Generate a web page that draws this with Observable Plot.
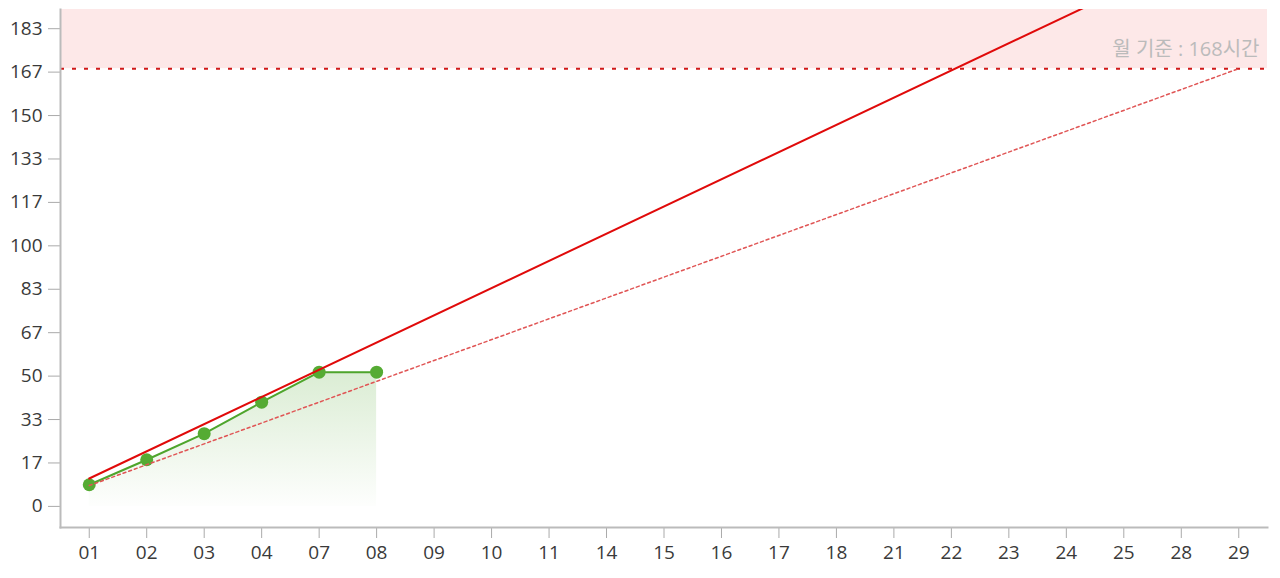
<!DOCTYPE html>
<html>
<head>
<meta charset="utf-8">
<script src="https://cdn.jsdelivr.net/npm/d3@7"></script>
<script src="https://cdn.jsdelivr.net/npm/@observablehq/plot@0.6"></script>
<style>
  html, body { margin: 0; padding: 0; background: #fff; }
  #chart svg { display: block; }
</style>
</head>
<body>
<div id="chart"></div>
<script>
// Categories (work days)
const days = ["01","02","03","04","07","08","09","10","11","14","15","16","17","18","21","22","23","24","25","28","29"];
// Actual cumulative hours (green)
const actualDays = ["01","02","03","04","07","08"];
const actualHours = [8.3, 17.9, 27.9, 40, 51.5, 51.5];
// Projected pace (solid red) — straight line between its ends
const paceDays = ["01","29"];
const paceHours = [10.7, 219.5];
// Standard pace 8h/day (dotted red)
const stdDays = ["01","29"];
const stdHours = [8, 168];
// Monthly standard
const monthlyLimit = 168;
const limitLabel = "월 기준 : 168시간";
// Y ticks
const yTicks = [0, 50/3, 100/3, 50, 200/3, 250/3, 100, 350/3, 400/3, 150, 500/3, 550/3];
const yTickLabels = ["0","17","33","50","67","83","100","117","133","150","167","183"];

const actual = actualDays.map((d, i) => ({day: d, hours: actualHours[i]}));
const pace = paceDays.map((d, i) => ({day: d, hours: paceHours[i]}));
const std = stdDays.map((d, i) => ({day: d, hours: stdHours[i]}));

function gradientDefs() {
  const defs = d3.create("svg:defs");
  const lg = defs.append("linearGradient").attr("id", "gfill")
    .attr("x1", 0).attr("y1", 0).attr("x2", 0).attr("y2", 1);
  lg.append("stop").attr("offset", "0%").attr("stop-color", "#5aac3a").attr("stop-opacity", 0.22);
  lg.append("stop").attr("offset", "100%").attr("stop-color", "#5aac3a").attr("stop-opacity", 0.01);
  return defs.node();
}

const font = "'Open Sans', 'Noto Sans CJK KR', sans-serif";

const chart = Plot.plot({
  width: 1280,
  height: 578,
  marginLeft: 60,
  marginRight: 13,
  marginTop: 9,
  marginBottom: 51,
  style: {fontFamily: font, color: "#444", background: "#fff"},
  x: {type: "point", domain: days, padding: 0.5, round: false, label: null},
  y: {domain: [-8.1, 190.7], label: null},
  marks: [
    gradientDefs,
    Plot.rect([{}], {y1: monthlyLimit, y2: 190.7, fill: "#fde8e8"}),
    Plot.ruleY([monthlyLimit], {stroke: "#d01818", strokeWidth: 2, strokeDasharray: "4,8"}),
    Plot.areaY(actual, {x: "day", y1: 0, y2: "hours", fill: "url(#gfill)", curve: "linear"}),
    Plot.line(actual, {x: "day", y: "hours", stroke: "#4ea52c", strokeWidth: 2}),
    Plot.dot(actual, {x: "day", y: "hours", r: 6.5, fill: "#55ab33", stroke: "none"}),
    Plot.line(std, {x: "day", y: "hours", stroke: "#e05555", strokeWidth: 1.5, strokeDasharray: "3,3"}),
    Plot.line(pace, {x: "day", y: "hours", stroke: "#e00a0a", strokeWidth: 2, clip: true}),
    Plot.text([limitLabel], {frameAnchor: "right", y: monthlyLimit, dx: -8, dy: -19, text: d => d, fill: "#bbbbbb", fontSize: 20, textAnchor: "end"}),
    Plot.axisY({ticks: yTicks, tickFormat: (d) => yTickLabels[yTicks.indexOf(d)], tickSize: 12, tickPadding: 6, stroke: "#aaa", fill: "#3a3a3a", fontSize: 19, label: null}),
    Plot.axisX({tickSize: 11, tickPadding: 7, stroke: "#aaa", fill: "#3a3a3a", fontSize: 19, label: null}),
    Plot.frame({anchor: "left", stroke: "#bbb", strokeWidth: 2}),
    Plot.frame({anchor: "bottom", stroke: "#bbb", strokeWidth: 2})
  ]
});
document.getElementById("chart").appendChild(chart);
</script>
</body>
</html>
